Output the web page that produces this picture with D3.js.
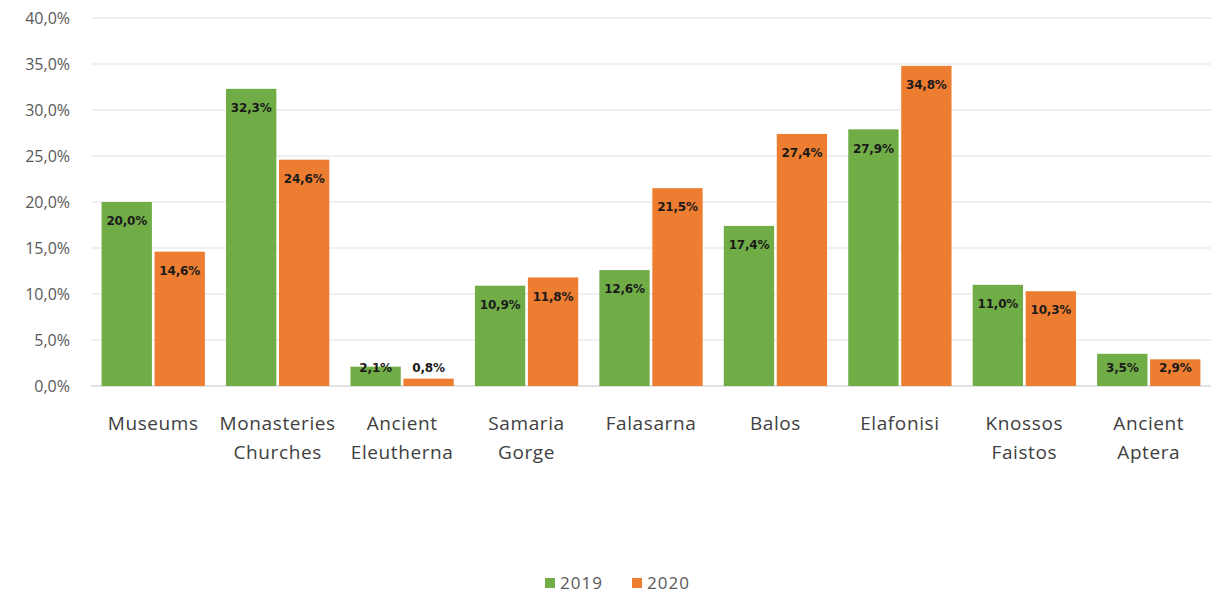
<!DOCTYPE html>
<html>
<head>
<meta charset="utf-8">
<script src="https://cdn.jsdelivr.net/npm/d3@7"></script>
<style>
  html, body { margin: 0; padding: 0; background: #ffffff; }
  svg { display: block; }
</style>
</head>
<body>
<svg id="chart" width="1211" height="594"></svg>
<script>
// Visitor share by site, 2019 vs 2020
const categories = [
  ["Museums"],
  ["Monasteries", "Churches"],
  ["Ancient", "Eleutherna"],
  ["Samaria", "Gorge"],
  ["Falasarna"],
  ["Balos"],
  ["Elafonisi"],
  ["Knossos", "Faistos"],
  ["Ancient", "Aptera"]
];
const seriesNames = ["2019", "2020"];
const values2019 = [20.0, 32.3, 2.1, 10.9, 12.6, 17.4, 27.9, 11.0, 3.5];
const values2020 = [14.6, 24.6, 0.8, 11.8, 21.5, 27.4, 34.8, 10.3, 2.9];
const yTicks = [0, 5, 10, 15, 20, 25, 30, 35, 40];
const colors = ["#70ad47", "#ed7d31"];

const fmt = v => d3.format(".1f")(v).replace(".", ",") + "%";

const svg = d3.select("#chart");
const margin = { left: 91, right: 0, top: 18, bottom: 208 };
const W = 1211, H = 594;

const x = d3.scaleBand()
  .domain(d3.range(categories.length))
  .range([margin.left, W - margin.right])
  .paddingInner(0.17)
  .paddingOuter(0.085);

const xInner = d3.scaleBand()
  .domain(seriesNames)
  .range([0, x.bandwidth()])
  .paddingInner(0.05);

const y = d3.scaleLinear().domain([0, 40]).range([H - margin.bottom, margin.top]);

// gridlines
svg.append("g")
  .selectAll("line")
  .data(yTicks)
  .join("line")
  .attr("x1", margin.left)
  .attr("x2", W - margin.right)
  .attr("y1", d => y(d))
  .attr("y2", d => y(d))
  .attr("stroke", d => d === 0 ? "#d9d9d9" : "#ebebeb")
  .attr("stroke-width", 1.5);

// y axis labels
const yAxis = d3.axisLeft(y).tickValues(yTicks).tickFormat(fmt).tickSize(0).tickPadding(0);
const gy = svg.append("g").attr("transform", `translate(70,0)`).call(yAxis);
gy.select(".domain").remove();
gy.selectAll("text")
  .attr("fill", "#595959")
  .style("font-family", "'Open Sans', 'Liberation Sans', sans-serif")
  .style("font-size", "16px");

// bars
const series = [values2019, values2020];
const groups = svg.append("g")
  .selectAll("g")
  .data(categories.map((c, i) => i))
  .join("g")
  .attr("transform", i => `translate(${x(i)},0)`);

groups.selectAll("rect")
  .data(i => seriesNames.map((s, k) => ({ s, k, v: series[k][i] })))
  .join("rect")
  .attr("x", d => xInner(d.s))
  .attr("width", xInner.bandwidth())
  .attr("y", d => y(d.v))
  .attr("height", d => y(0) - y(d.v))
  .attr("fill", d => colors[d.k]);

groups.selectAll("text.val")
  .data(i => seriesNames.map((s, k) => ({ s, k, v: series[k][i] })))
  .join("text")
  .attr("class", "val")
  .attr("x", d => xInner(d.s) + xInner.bandwidth() / 2)
  .attr("y", d => Math.min(y(d.v) + 19, y(0) - 18))
  .attr("dy", "0.35em")
  .attr("text-anchor", "middle")
  .attr("fill", "#1a1a1a")
  .style("font-family", "'DejaVu Sans', Verdana, sans-serif")
  .style("font-weight", "bold")
  .style("font-size", "12px")
  .style("letter-spacing", "-0.2px")
  .text(d => fmt(d.v));

// category labels
const gx = svg.append("g");
categories.forEach((lines, i) => {
  const t = gx.append("text")
    .attr("x", x(i) + x.bandwidth() / 2)
    .attr("y", 430)
    .attr("text-anchor", "middle")
    .attr("fill", "#404040")
    .style("font-family", "'Open Sans', 'Liberation Sans', sans-serif")
    .style("font-size", "19px")
    .style("letter-spacing", "0.6px");
  lines.forEach((ln, j) => {
    t.append("tspan")
      .attr("x", x(i) + x.bandwidth() / 2)
      .attr("dy", j === 0 ? 0 : 29)
      .text(ln);
  });
});

// legend
const legend = svg.append("g").attr("transform", "translate(545,583)");
const legendItems = [{ name: "2019", x: 0 }, { name: "2020", x: 87 }];
legendItems.forEach((d, k) => {
  legend.append("rect")
    .attr("x", d.x).attr("y", -5).attr("width", 10).attr("height", 10)
    .attr("fill", colors[k]);
  legend.append("text")
    .attr("x", d.x + 15).attr("y", 0).attr("dy", "0.35em")
    .attr("fill", "#595959")
    .style("font-family", "'Open Sans', 'Liberation Sans', sans-serif")
    .style("font-size", "17px")
    .style("letter-spacing", "1px")
    .text(d.name);
});
</script>
</body>
</html>
